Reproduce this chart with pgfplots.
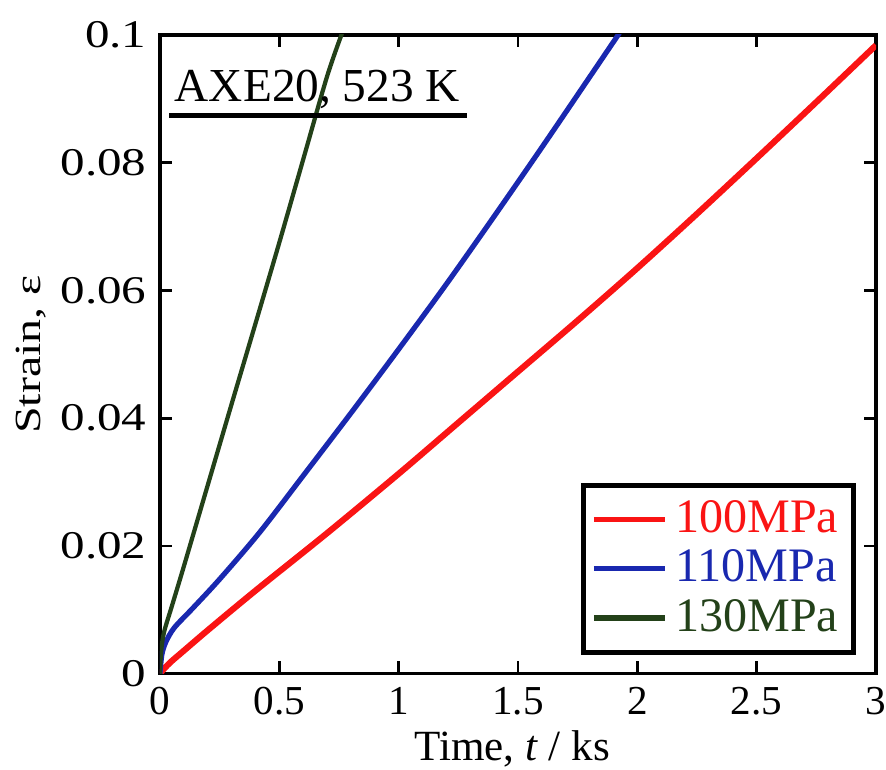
\documentclass[border=0pt]{standalone}
\usepackage{pgfplots}
\pgfplotsset{compat=1.18}
\usepackage{fontspec}
\setmainfont{Liberation Serif}
\newfontfamily\widefont{Liberation Serif}[FakeStretch=1.25]
\newfontfamily\ylfont{Liberation Serif}[FakeStretch=1.3]
\definecolor{cred}{RGB}{250,20,20}
\definecolor{cblue}{RGB}{25,40,175}
\definecolor{cgreen}{RGB}{35,65,25}
\begin{document}
\begin{tikzpicture}
\begin{axis}[
  width=186.2pt, height=166.1pt, scale only axis,
  xmin=0, xmax=3, ymin=0, ymax=0.1,
  xtick={0,0.5,1,1.5,2,2.5,3},
  xticklabels={0,0.5,1,1.5,2,2.5,3},
  ytick={0,0.02,0.04,0.06,0.08,0.1},
  yticklabels={0,0.02,0.04,0.06,0.08,0.1},
  tick align=inside, major tick length=3.2pt,
  tick style={line width=0.7pt, black},
  axis line style={line width=0.8pt},
  xticklabel style={font=\fontsize{10.7pt}{12pt}\selectfont},
  yticklabel style={font=\widefont\fontsize{10.2pt}{12pt}\selectfont},
  /pgf/number format/assume math mode=true,
  xlabel={Time, \textit{t} / ks},
  ylabel={Strain, ε},
  xlabel style={font=\fontsize{11.2pt}{13pt}\selectfont, yshift=3pt, xshift=-1.5pt},
  ylabel style={font=\ylfont\fontsize{9.6pt}{12pt}\selectfont, yshift=-3pt},
  legend style={at={(0.972,0.030)}, anchor=south east, draw=black, line width=1.2pt,
    font=\fontsize{12.5pt}{15pt}\selectfont, row sep=-1pt, inner xsep=2pt, inner ysep=2pt,
    /tikz/every even column/.append style={column sep=0pt}},
  legend cell align=left,
  legend image code/.code={\draw[#1, line width=1.4pt] (0pt,0pt) -- (18.5pt,0pt);},
  clip=true,
]
\addplot[cred, line width=1.6pt, smooth, tension=0.5] coordinates {
(0,0) (0.02,0.0009) (0.05,0.0020) (0.1,0.0036) (0.2,0.0068) (0.4,0.0130) (0.7,0.0220)
(1.0,0.0313) (1.25,0.0393) (1.5,0.0473) (1.75,0.0553) (2.0,0.0635) (2.25,0.0720)
(2.5,0.0807) (2.75,0.0895) (3.0,0.0984)};
\addlegendentry{\textcolor{cred}{100MPa}}
\addplot[cblue, line width=1.35pt, smooth, tension=0.5] coordinates {
(0,0) (0.008,0.0030) (0.025,0.0050) (0.06,0.0072) (0.136,0.0102) (0.25,0.0148)
(0.417,0.0221) (0.6,0.0310) (0.8,0.0408) (1.0,0.0508) (1.2,0.0610) (1.4,0.0716)
(1.6,0.0824) (1.8,0.0934) (1.925,0.1003)};
\addlegendentry{\textcolor{cblue}{110MPa}}
\addplot[cgreen, line width=1.1pt, smooth, tension=0.5] coordinates {
(0,0) (0.005,0.0035) (0.017,0.0065) (0.05,0.0106) (0.1,0.0168) (0.2,0.0295)
(0.3,0.0422) (0.4,0.0548) (0.5,0.0675) (0.6,0.0805) (0.7,0.0935) (0.765,0.1005)};
\addlegendentry{\textcolor{cgreen}{130MPa}}
\node[anchor=base west, inner sep=0pt, font=\fontsize{12.3pt}{15pt}\selectfont]
  at (axis cs:0.059,0.0896) {AXE20, 523 K};
\draw[line width=1.3pt] (axis cs:0.038,0.0874) -- (axis cs:1.288,0.0874);
\end{axis}
\pgfresetboundingbox
\useasboundingbox ([shift={(-41.6pt,-25pt)}]current axis.south west) rectangle ([shift={(2.6pt,9.1pt)}]current axis.north east);
\end{tikzpicture}
\end{document}
